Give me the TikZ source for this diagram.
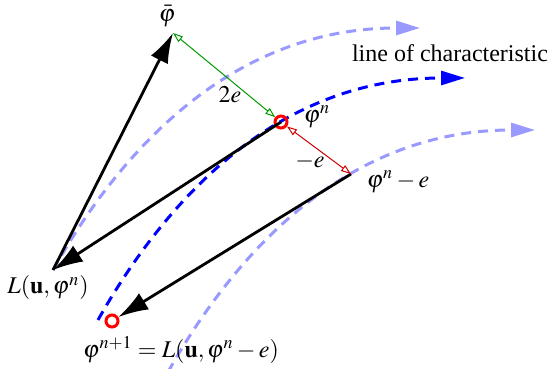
\documentclass[12pt,tikz,border=0pt]{standalone}
\usepackage{mathptmx}
\usepackage{fontspec}
\setmainfont{Liberation Serif}
\usetikzlibrary{arrows.meta}

\begin{document}
\begin{tikzpicture}[
    x=0.5pt,
    y=0.5pt,
    vec/.style={
        -{Latex[length=15pt,width=9.5pt]},
        line width=1.4pt,
        draw=black
    },
    charline/.style={
        -{Triangle[length=12pt,width=7pt]},
        line width=1.5pt,
        dash pattern=on 5pt off 3.5pt,
        draw=blue
    },
    faintline/.style={
        charline,
        draw=blue!40
    },
    dimline/.style={
        {Triangle[open,length=5pt,width=3.5pt]}-{Triangle[open,length=5pt,width=3.5pt]},
        line width=0.5pt
    },
    ptcirc/.style={
        circle,
        draw=red,
        line width=1.5pt,
        minimum size=6pt,
        inner sep=0pt
    }
]
    \useasboundingbox (0,0) rectangle (553,369);

    % Characteristics (same curve, shifted)
    \foreach \dx/\dy/\sty in {-45/50/faintline, 0/0/charline, 70/-52/faintline}{
        \draw[\sty, shift={(\dx,\dy)}] (98,49) .. controls (160,159) and (270,291) .. (465,291);
    }

    % Points
    \coordinate (phibar) at (173,336);
    \coordinate (L) at (53,99);
    \coordinate (phine) at (351,195);
    \node[ptcirc] (phin) at (281,247) {};
    \node[ptcirc] (phinp) at (112,48) {};

    % Vectors
    \draw[vec] (L) -- (phibar);
    \draw[vec] (phin.center) -- (L);
    \draw[vec] (phine) -- (phinp);

    % Distances
    \draw[dimline, draw=green!60!black] (phibar) -- (phin);
    \draw[dimline, draw=red!80!black] (phin) -- (phine);

    % Labels
    \node[inner sep=1pt] (lphibar) at (167,353) {$\bar{\varphi}$};
    \node (l2e) at (230,274) {$2e$};
    \node (lphin) at (317,252) {$\varphi^n$};
    \node (lme) at (310,207) {$-e$};
    \node (lphine) at (398,187) {$\varphi^n-e$};
    \node (lL) at (48,81) {$L(\mathbf{u},\varphi^n)$};
    \node (lphinp) at (181,19) {$\varphi^{n+1}=L(\mathbf{u},\varphi^n-e)$};
    \node (lchar) at (450,316) {line of characteristic};

\end{tikzpicture}
\end{document}
